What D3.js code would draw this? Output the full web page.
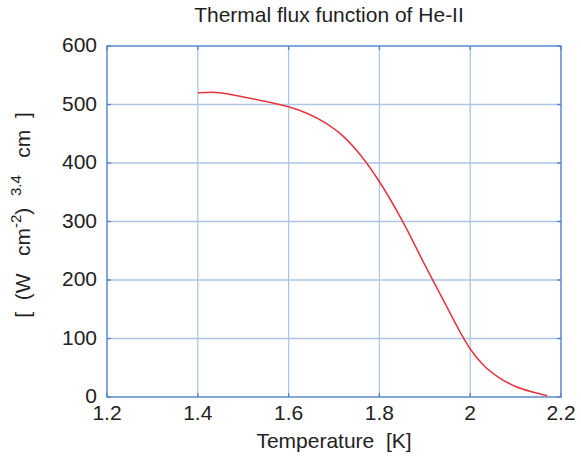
<!DOCTYPE html>
<html><head><meta charset="utf-8">
<script src="https://cdn.jsdelivr.net/npm/d3@7/dist/d3.min.js"></script>
<style>body{margin:0;background:#fff;} text{font-family:"Liberation Sans",Arial,sans-serif;fill:#222;}</style>
</head><body>
<svg id="c" width="581" height="461"></svg>
<script>
const temperature = [1.40, 1.43, 1.50, 1.55, 1.60, 1.64, 1.68, 1.72, 1.76, 1.80, 1.85, 1.90, 1.95, 1.98, 2.00, 2.03, 2.06, 2.10, 2.14, 2.17];
const fluxFunction = [520, 521, 513, 505, 496, 485, 469, 446, 412, 368, 302, 226, 152, 108, 82, 54, 35, 18, 8, 2];
const xTicks = [1.2, 1.4, 1.6, 1.8, 2.0, 2.2];
const yTicks = [0, 100, 200, 300, 400, 500, 600];

const svg = d3.select("#c");
const L = 107, R = 561, T = 46, B = 397;
const x = d3.scaleLinear().domain([1.2, 2.2]).range([L, R]);
const y = d3.scaleLinear().domain([0, 600]).range([B, T]);

// grid
svg.append("g").selectAll("line").data(xTicks.slice(1, -1)).join("line")
  .attr("x1", d => x(d)).attr("x2", d => x(d)).attr("y1", T).attr("y2", B)
  .attr("stroke", "#adc6e6").attr("stroke-width", 1.3);
svg.append("g").selectAll("line").data(yTicks.slice(1, -1)).join("line")
  .attr("y1", d => y(d)).attr("y2", d => y(d)).attr("x1", L).attr("x2", R)
  .attr("stroke", "#adc6e6").attr("stroke-width", 1.3);

// inward ticks
const tk = 4, axCol = "#4f82c8";
const g = svg.append("g").attr("stroke", axCol).attr("stroke-width", 1.3);
xTicks.forEach(d => {
  g.append("line").attr("x1", x(d)).attr("x2", x(d)).attr("y1", B).attr("y2", B - tk);
  g.append("line").attr("x1", x(d)).attr("x2", x(d)).attr("y1", T).attr("y2", T + tk);
});
yTicks.forEach(d => {
  g.append("line").attr("y1", y(d)).attr("y2", y(d)).attr("x1", L).attr("x2", L + tk);
  g.append("line").attr("y1", y(d)).attr("y2", y(d)).attr("x1", R).attr("x2", R - tk);
});
svg.append("rect").attr("x", L).attr("y", T).attr("width", R - L).attr("height", B - T)
  .attr("fill", "none").attr("stroke", axCol).attr("stroke-width", 1.4);

// tick labels
svg.append("g").selectAll("text").data(xTicks).join("text")
  .attr("x", d => x(d)).attr("y", B + 23).attr("text-anchor", "middle")
  .attr("font-size", 21).text(d => d3.format("~g")(d));
svg.append("g").selectAll("text").data(yTicks).join("text")
  .attr("x", L - 10).attr("y", d => y(d) + 6).attr("text-anchor", "end")
  .attr("font-size", 21).text(d => d);

// curve
const line = d3.line().x((d, i) => x(temperature[i])).y(d => y(d)).curve(d3.curveMonotoneX);
svg.append("path").datum(fluxFunction).attr("d", line)
  .attr("fill", "none").attr("stroke", "#e8333e").attr("stroke-width", 1.5);

// titles
svg.append("text").attr("x", 329).attr("y", 22).attr("text-anchor", "middle")
  .attr("font-size", 21).text("Thermal flux function of He-II");
svg.append("text").attr("x", 334).attr("y", 448).attr("text-anchor", "middle")
  .attr("font-size", 21).attr("xml:space", "preserve").text("Temperature  [K]");

const yl = svg.append("text").attr("transform", "translate(30,215) rotate(-90)")
  .attr("text-anchor", "middle").attr("font-size", 21).attr("xml:space", "preserve");
yl.append("tspan").text("[  (W   cm");
yl.append("tspan").attr("font-size", 15).attr("dy", -9).text("-2");
yl.append("tspan").attr("dy", 9).text(")  ");
yl.append("tspan").attr("font-size", 15).attr("dy", -9).text("3.4");
yl.append("tspan").attr("dy", 9).text("   cm  ]");
</script>
</body></html>
